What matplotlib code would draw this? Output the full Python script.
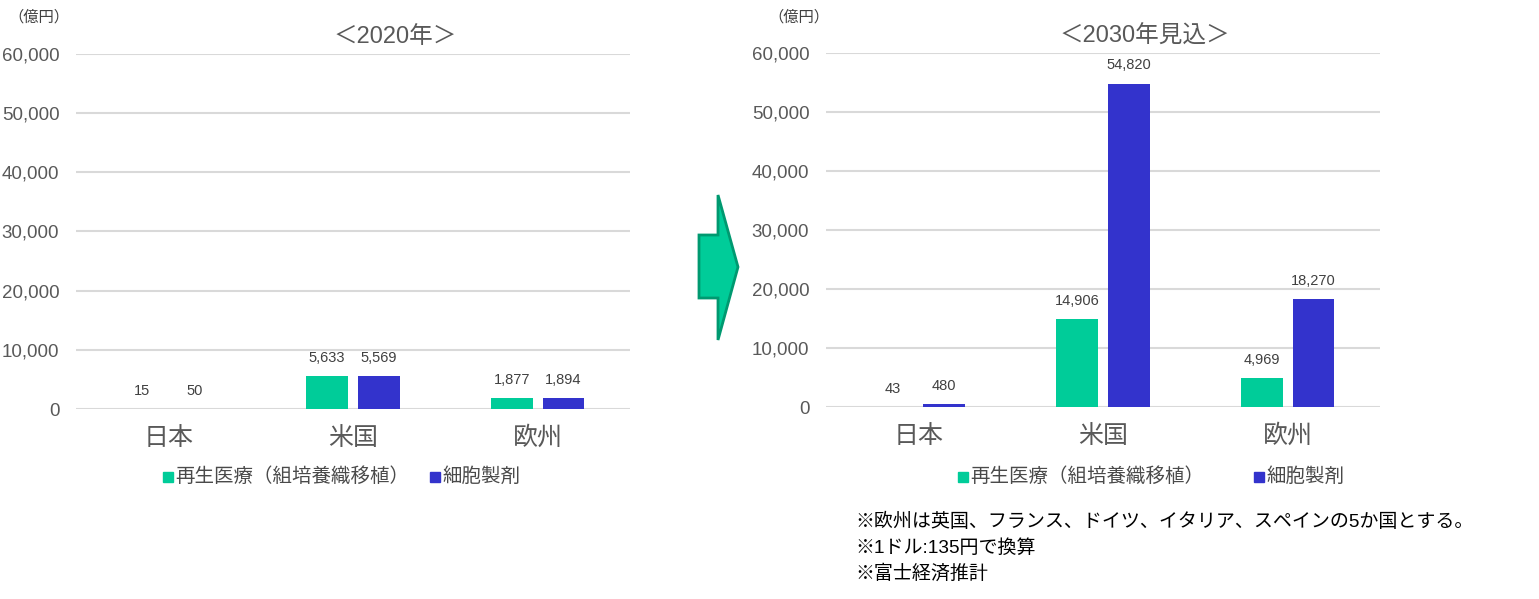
import numpy as np
import matplotlib.pyplot as plt
from matplotlib.patches import Polygon, Rectangle

plt.rcParams['font.family'] = ['Liberation Sans', 'Noto Sans CJK JP']

categories = ['日本', '米国', '欧州']
series_names = ['再生医療（組培養織移植）', '細胞製剤']
values_2020_regen = [15, 5633, 1877]
values_2020_cell = [50, 5569, 1894]
values_2030_regen = [43, 14906, 4969]
values_2030_cell = [480, 54820, 18270]
yticks = [0, 10000, 20000, 30000, 40000, 50000, 60000]
titles = ['＜2020年＞', '＜2030年見込＞']
notes = ['※欧州は英国、フランス、ドイツ、イタリア、スペインの5か国とする。',
         '※1ドル:135円で換算',
         '※富士経済推計']

GREEN = '#00CC99'
BLUE = '#3333CC'
GRID = '#D9D9D9'
TXT = '#595959'

W, H = 1539, 599
fig = plt.figure(figsize=(W / 100, H / 100), dpi=100)


def px_axes(x0, x1, y_top, y_bot):
    return fig.add_axes([x0 / W, 1 - y_bot / H, (x1 - x0) / W, (y_bot - y_top) / H])


def draw_panel(ax, regen, cell, title, title_x):
    x = np.arange(len(categories))
    off, bw = 0.14, 0.227
    b1 = ax.bar(x - off, regen, bw, color=GREEN, zorder=3)
    b2 = ax.bar(x + off, cell, bw, color=BLUE, zorder=3)
    for bars in (b1, b2):
        for r in bars:
            ax.annotate(f'{int(r.get_height()):,}',
                        (r.get_x() + r.get_width() / 2, r.get_height()),
                        xytext=(0, 8), textcoords='offset points',
                        ha='center', va='bottom', fontsize=10.5, color='#404040')
    ax.set_xlim(-0.5, 2.5)
    ax.set_ylim(0, 60000)
    ax.set_yticks(yticks)
    ax.set_yticklabels([f'{v:,}' for v in yticks])
    ax.set_xticks(x)
    ax.set_xticklabels(categories, fontsize=18, color=TXT)
    ax.tick_params(axis='y', length=0, pad=12, labelsize=13.5, labelcolor=TXT)
    ax.tick_params(axis='x', length=0, pad=12)
    ax.grid(axis='y', color=GRID, linewidth=1.5, zorder=0)
    for s in ax.spines.values():
        s.set_visible(False)
    ax.set_axisbelow(True)
    fig.text(title_x / W, 1 - 37 / H, title, ha='center', va='center',
             fontsize=17, color=TXT)


ax1 = px_axes(76, 630, 54, 409)
draw_panel(ax1, values_2020_regen, values_2020_cell, titles[0], 395)
ax2 = px_axes(826, 1380, 53, 407)
draw_panel(ax2, values_2030_regen, values_2030_cell, titles[1], 1145)

# units
fig.text(8 / W, 1 - 17 / H, '（億円）', ha='left', va='center', fontsize=11, color='#404040')
fig.text(768 / W, 1 - 17 / H, '（億円）', ha='left', va='center', fontsize=11, color='#404040')

# legends
def legend_at(x_green, x_blue, y):
    for xs, col, name in ((x_green, GREEN, series_names[0]), (x_blue, BLUE, series_names[1])):
        fig.patches.append(Rectangle(((xs - 5) / W, 1 - (y + 5) / H), 10 / W, 10 / H,
                                     transform=fig.transFigure, color=col))
        fig.text((xs + 7) / W, 1 - y / H, name, ha='left', va='center',
                 fontsize=14, color='#4a4a4a')

legend_at(168, 435, 477)
legend_at(963, 1259, 477)

# arrow
arrow = [(699, 235), (718, 235), (718, 195), (738, 267), (718, 340),
         (718, 298), (699, 298)]
fig.patches.append(Polygon([(px / W, 1 - py / H) for px, py in arrow], closed=True,
                           transform=fig.transFigure, facecolor=GREEN,
                           edgecolor='#009970', linewidth=2))

# notes
for i, n in enumerate(notes):
    fig.text(855 / W, 1 - (522 + 26 * i) / H, n, ha='left', va='center',
             fontsize=13.7, color='black')

fig.savefig('out.png', dpi=100)
